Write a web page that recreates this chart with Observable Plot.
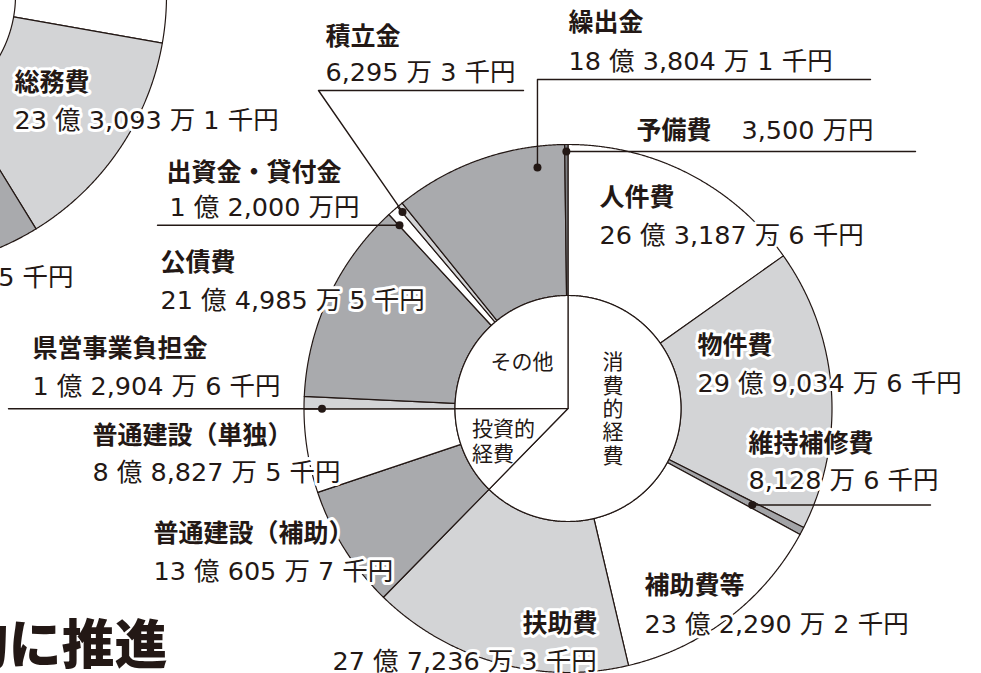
<!DOCTYPE html>
<html><head><meta charset="utf-8">
<script src="https://cdn.jsdelivr.net/npm/d3@7"></script>
<script src="https://cdn.jsdelivr.net/npm/@observablehq/plot@0.6"></script>
<style>body{margin:0;background:#fff}#chart svg{overflow:hidden;display:block}</style>
</head><body><div id="chart"></div>
<script>
// ---- data (units: 千円) ----
const categories = ["人件費","物件費","維持補修費","補助費等","扶助費","普通建設（補助）","普通建設（単独）","県営事業負担金","公債費","出資金・貸付金","積立金","繰出金","予備費"];
const values = [2631876, 2990346, 81286, 2322902, 2772363, 1306057, 888275, 129046, 2149855, 120000, 62953, 1838041, 35000];
const groupOf = ["消費的経費","消費的経費","消費的経費","消費的経費","消費的経費","投資的経費","投資的経費","その他","その他","その他","その他","その他","その他"];
const groupNames = ["消費的経費","投資的経費","その他"];
const shadeOf = ["white","light","mid","white","light","dark","white","light","dark","white","light","dark","darker"];

// partially visible neighbouring chart (by purpose); first value estimated from its angle
const leftCategories = ["民生費","総務費","公債費"];
const leftValues = [4813000, 2330931, 2149855];
const leftShade = ["white","light","dark"];

const headline = "的に推進";

// ---- styles / layout ----
const palette = {white:"#ffffff", light:"#d3d4d6", mid:"#a3a4a7", dark:"#a9aaad", darker:"#7f8083"};
const ink = "#231815";
const C = {cx:567.5, cy:408, ri:113, ro:264};
const L = {cx:-108, cy:-5, ri:123, ro:274};

function fmt(v){
  const oku = Math.floor(v/100000), man = Math.floor((v%100000)/10), sen = v%10;
  let s = "";
  if (oku) s += oku + " 億 ";
  if (man) s += d3.format(",")(man) + " 万" + (sen ? " " : "円");
  if (sen) s += sen + " 千円";
  return s.trim();
}

const total = d3.sum(values);
function makeSlices(names, vals, tot){
  let acc = 0;
  return names.map((name,i)=>{const a0 = acc/tot*2*Math.PI; acc += vals[i]; return {name, i, a0, a1: acc/tot*2*Math.PI};});
}
function ring(sl, c, ri, ro, colorOf){
  const pts = [];
  for (const s of sl){
    const n = Math.max(2, Math.ceil((s.a1-s.a0)/0.004));
    for (let k=0;k<=n;k++){const a=s.a0+(s.a1-s.a0)*k/n; pts.push({key:s.name, x:c.cx+ro*Math.sin(a), y:c.cy-ro*Math.cos(a), fill:colorOf(s)});}
    if (ri>0) for (let k=n;k>=0;k--){const a=s.a0+(s.a1-s.a0)*k/n; pts.push({key:s.name, x:c.cx+ri*Math.sin(a), y:c.cy-ri*Math.cos(a), fill:colorOf(s)});}
    else pts.push({key:s.name, x:c.cx, y:c.cy, fill:colorOf(s)});
  }
  return pts;
}
const slices = makeSlices(categories, values, total);
const groupVals = groupNames.map(g=>d3.sum(values.filter((v,i)=>groupOf[i]===g)));
const inner = makeSlices(groupNames, groupVals, total);
const leftSlices = makeSlices(leftCategories, leftValues, total);

const ringPts = ring(slices, C, C.ri, C.ro, s=>palette[shadeOf[s.i]]);
const innerPts = ring(inner, C, 0, C.ri, s=>"#ffffff");
const leftPts = ring(leftSlices, L, L.ri, L.ro, s=>palette[leftShade[s.i]]);

// leader dots: position within slice (t) and radius
function dotOf(name, t, r){
  const s = slices.find(d=>d.name===name); const a = s.a0 + (s.a1-s.a0)*t;
  return [C.cx + r*Math.sin(a), C.cy - r*Math.cos(a)];
}
const leaderSpec = [
  {name:"繰出金", t:0.83, r:243, path:d=>[d,[d[0],79],[870,79]]},
  {name:"予備費", t:0.5, r:257, path:d=>[d,[915,d[1]]]},
  {name:"積立金", t:0.1, r:257, path:d=>[d,[318,90],[523,90]]},
  {name:"出資金・貸付金", t:0.05, r:249, path:d=>[d,[157,d[1]]]},
  {name:"県営事業負担金", t:0.0, r:246, path:d=>[d,[8,d[1]]]},
  {name:"維持補修費", t:0.5, r:208, path:d=>[d,[930,d[1]]]}
];
const dots = leaderSpec.map(l=>{const d=dotOf(l.name,l.t,l.r); return {name:l.name, x:d[0], y:d[1]};});
const leaders = leaderSpec.flatMap(l=>{const d=dotOf(l.name,l.t,l.r); return l.path(d).map(p=>({name:l.name, x:p[0], y:p[1]}));});

// label layout: [name, x, nameY, valueY, valueX, nameAnchor]
const labelLayout = [
  ["積立金",325,36,72],["繰出金",568,22,61],["人件費",599,197,235],["物件費",697,345,383],
  ["維持補修費",748,443,480],["補助費等",644,585,624],["扶助費",597,623,661,332,"end"],
  ["普通建設（補助）",153,533,571],["普通建設（単独）",92,435,472],["県営事業負担金",32,348,386],
  ["公債費",160,262,300],["出資金・貸付金",166,172,207,169]
];
const nameLabels = labelLayout.map(([n,x,y1,y2,vx,anc])=>({text:n, x, y:y1, anchor:anc||"start"}));
const valueLabels = labelLayout.map(([n,x,y1,y2,vx])=>({text:fmt(values[categories.indexOf(n)]), x:vx??x, y:y2}));
// single-line label
const yobiName = [{text:"予備費", x:636, y:130}];
const yobiValue = [{text:fmt(values[categories.indexOf("予備費")]), x:741, y:130}];
// left chart labels
const leftName = [{text:"総務費", x:14, y:82, anchor:"start"}];
const leftValueStart = [{text:fmt(leftValues[1]), x:14, y:120}];
const leftValueEnd = [{text:fmt(leftValues[2]), x:73, y:277}];

const nameFont = "'Noto Sans CJK JP', sans-serif";
const valueFont = "'DejaVu Sans', 'Noto Sans CJK JP', sans-serif";
const halo = {stroke:"white", strokeWidth:6, strokeLinejoin:"round", fill:ink};
const nameStyle = {fontSize:25, fontWeight:700, fontFamily:nameFont, ...halo};
const valueStyle = {fontSize:25.5, fontFamily:valueFont, ...halo};

const chart = Plot.plot({
  width:981, height:673, margin:0,
  x:{domain:[0,981], range:[0,981], axis:null},
  y:{domain:[0,673], range:[0,673], axis:null},
  color:{type:"identity"},
  style:{background:"#fff", overflow:"hidden"},
  marks:[
    Plot.line(leftPts, {x:"x", y:"y", z:"key", fill:"fill", stroke:ink, strokeWidth:1.2, curve:"linear-closed"}),
    Plot.line(ringPts, {x:"x", y:"y", z:"key", fill:"fill", stroke:ink, strokeWidth:1.2, curve:"linear-closed"}),
    Plot.line(innerPts, {x:"x", y:"y", z:"key", fill:"fill", stroke:ink, strokeWidth:1.2, curve:"linear-closed"}),
    Plot.line(leaders, {x:"x", y:"y", z:"name", stroke:ink, strokeWidth:1.4}),
    Plot.dot(dots, {x:"x", y:"y", r:4, fill:ink}),
    Plot.text(nameLabels.filter(d=>d.anchor==="start").concat(leftName, yobiName), {x:"x", y:"y", text:"text", textAnchor:"start", ...nameStyle}),
    Plot.text(nameLabels.filter(d=>d.anchor==="end"), {x:"x", y:"y", text:"text", textAnchor:"end", ...nameStyle}),
    Plot.text(valueLabels.concat(leftValueStart, yobiValue), {x:"x", y:"y", text:"text", textAnchor:"start", ...valueStyle}),
    Plot.text(leftValueEnd, {x:"x", y:"y", text:"text", textAnchor:"end", ...valueStyle}),
    Plot.text([{text:"その他"}], {x:()=>C.cx-46, y:()=>C.cy-46, text:"text", fontSize:21, fontFamily:nameFont, fill:ink}),
    Plot.text([{text:"投資的\n経費"}], {x:()=>C.cx-96, y:()=>C.cy+32, text:"text", textAnchor:"start", lineHeight:1.19, fontSize:21, fontFamily:nameFont, fill:ink}),
    Plot.text([{text:groupNames[0].split("").join("\n")}], {x:()=>C.cx+45, y:()=>C.cy, text:"text", lineHeight:1.11, fontSize:21, fontFamily:nameFont, fill:ink}),
    Plot.text([{text:headline}], {x:()=>167, y:()=>647, text:"text", textAnchor:"end", fontSize:53, fontWeight:900, fontFamily:nameFont, fill:ink})
  ]
});
chart.querySelectorAll("g[aria-label=text]").forEach(g=>{g.style.paintOrder="stroke";});
document.getElementById("chart").appendChild(chart);
</script></body></html>
